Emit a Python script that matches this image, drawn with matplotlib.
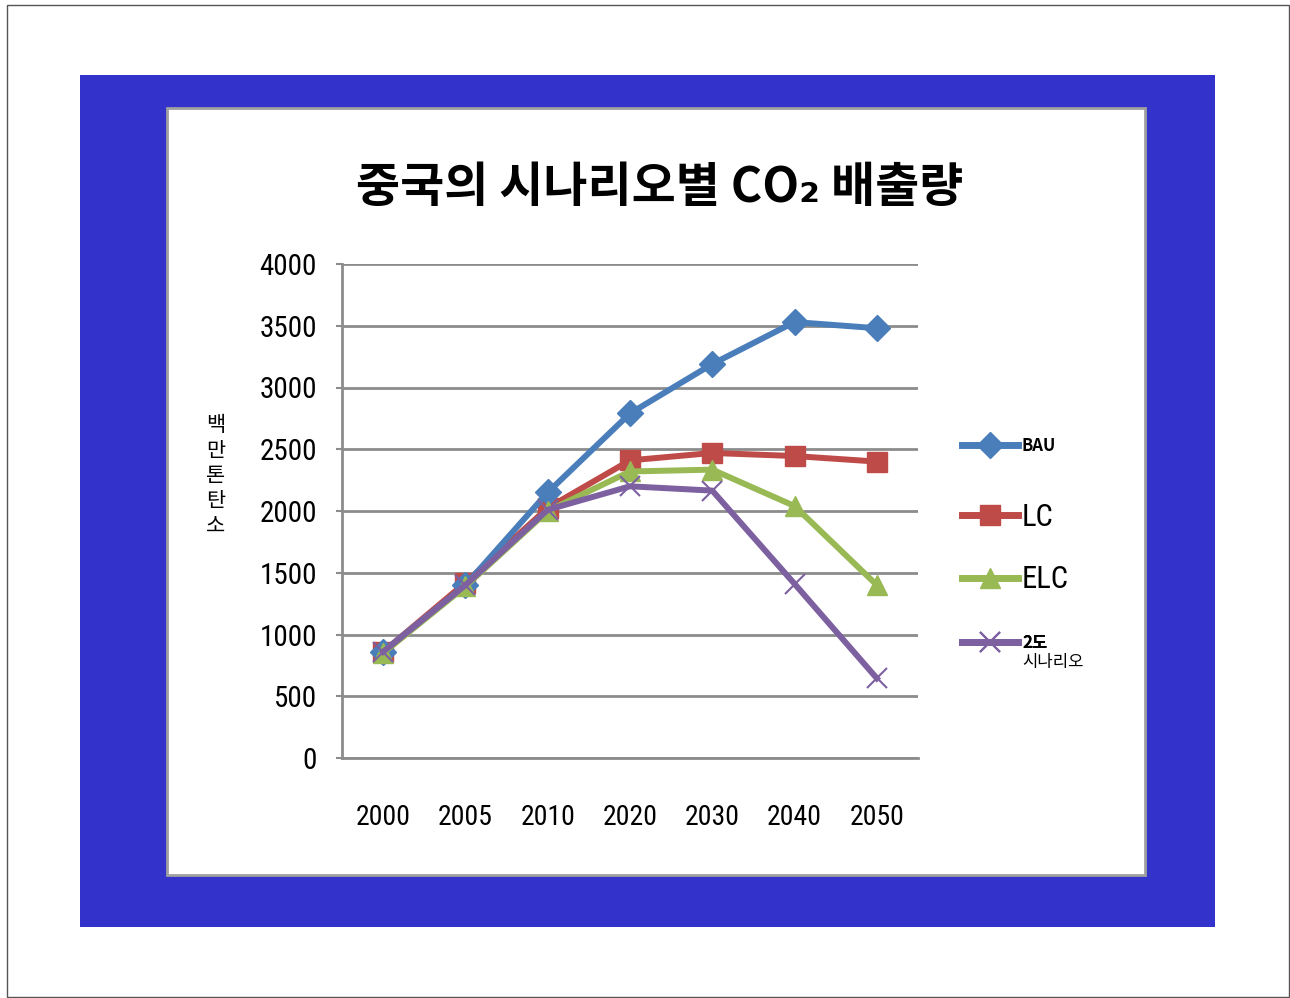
import matplotlib.pyplot as plt
from matplotlib.patches import Rectangle

plt.rcParams['font.family'] = ['Noto Sans CJK KR', 'DejaVu Sans']
plt.rcParams['axes.unicode_minus'] = False

# 데이터
years = ['2000', '2005', '2010', '2020', '2030', '2040', '2050']
bau = [860, 1400, 2150, 2790, 3190, 3530, 3480]
lc = [860, 1420, 2025, 2410, 2470, 2445, 2400]
elc = [850, 1390, 2000, 2320, 2335, 2040, 1400]
two_deg = [860, 1400, 2010, 2200, 2165, 1410, 645]

y_ticks = [0, 500, 1000, 1500, 2000, 2500, 3000, 3500, 4000]
narrow = ['DejaVu Sans Condensed', 'Roboto Condensed', 'Liberation Sans Narrow',
          'Noto Sans CJK KR']

fig = plt.figure(figsize=(12.9, 9.98), dpi=100)

# 배경 (바깥 테두리, 파란 판, 흰 차트 영역)
fig.patches.append(Rectangle((7/1290, 1/998), 1282/1290, 992/998, transform=fig.transFigure,
                             facecolor='white', edgecolor='#555555', lw=1, zorder=-3))
fig.patches.append(Rectangle((80/1290, 71/998), 1135/1290, 852/998, transform=fig.transFigure,
                             facecolor='#3333CC', edgecolor='none', zorder=-2))
fig.patches.append(Rectangle((167/1290, 123/998), 978/1290, 767/998, transform=fig.transFigure,
                             facecolor='white', edgecolor='#A0A0A0', lw=2, zorder=-1))

ax = fig.add_axes([342/1290, 240/998, 576/1290, 494/998])
ax.set_facecolor('none')
x = range(len(years))

l1, = ax.plot(x, bau, color='#4A7EBB', lw=4.3, marker='D', ms=13, zorder=4)
l2, = ax.plot(x, lc, color='#BE4B48', lw=4.3, marker='s', ms=14, zorder=3)
l3, = ax.plot(x, elc, color='#98B954', lw=4.3, marker='^', ms=15, zorder=5)
l4, = ax.plot(x, two_deg, color='#7D60A0', lw=4.3, marker='x', ms=14, mew=1.5, zorder=6)

ax.set_xlim(-0.5, len(years) - 0.5)
ax.set_ylim(0, 4000)
ax.set_yticks(y_ticks)
ax.set_xticks(list(x))
ax.set_xticklabels(years, family=narrow, fontsize=20)
ax.set_yticklabels([str(v) for v in y_ticks], family=narrow, fontsize=21)
ax.grid(axis='y', color='#8C8C8C', lw=2)
ax.set_axisbelow(True)
for s in ['top', 'right']:
    ax.spines[s].set_visible(False)
ax.spines['left'].set_color('#8C8C8C')
ax.spines['left'].set_linewidth(2)
ax.spines['bottom'].set_color('#8C8C8C')
ax.spines['bottom'].set_linewidth(2)
ax.tick_params(axis='x', length=0, pad=33)
ax.tick_params(axis='y', length=4, width=1.5, color='#8C8C8C', pad=14)

# 제목
fig.text(660/1290, 1 - 188/998, '중국의 시나리오별 CO₂ 배출량', ha='center', va='center',
         fontsize=34.5, fontweight='bold')

# y축 제목 (세로 글자)
fig.text(216/1290, 1 - 476/998, '백\n만\n톤\n탄\n소', ha='center', va='center',
         fontsize=15, linespacing=1.2)

# 범례: 항목마다 따로 배치
handle_px = 56
entries = [
    (l1, 'BAU', 446, dict(size=12, weight='bold')),
    (l2, 'LC', 517, dict(size=22, family=narrow)),
    (l3, 'ELC', 580, dict(size=22, family=narrow)),
    (l4, '2도', 643, dict(size=12, weight='bold')),
]
for h, lab, ypx, prop in entries:
    fs = prop['size'] * 100 / 72
    leg = ax.legend([h], [lab], loc='center left', prop=prop,
                    bbox_to_anchor=(962/1290, 1 - ypx/998), bbox_transform=fig.transFigure,
                    frameon=False, borderpad=0, borderaxespad=0,
                    handlelength=handle_px / fs, handletextpad=4 / fs)
    leg.legend_handles[0].set_linewidth(5)
    ax.add_artist(leg)

fig.text(1022/1290, 1 - 663/998, '시나리오', ha='left', va='center', fontsize=12)

fig.savefig('out.png', dpi=100)
